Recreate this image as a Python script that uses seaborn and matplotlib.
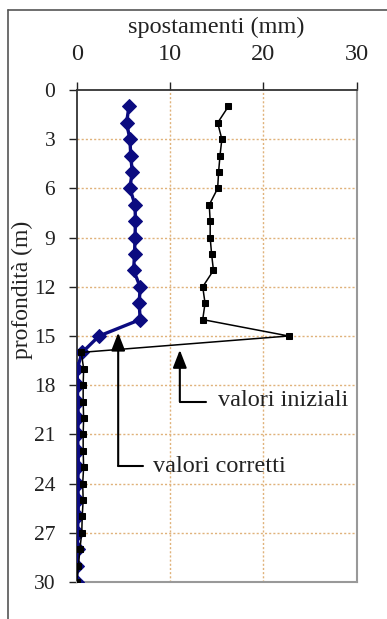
import numpy as np
import pandas as pd
import seaborn as sns
import matplotlib
matplotlib.use("Agg")
import matplotlib.pyplot as plt
from matplotlib.lines import Line2D

depth = list(range(1, 31))
valori_corretti = [5.6, 5.35, 5.7, 5.8, 5.95, 5.7, 6.25, 6.3, 6.25, 6.2,
                   6.1, 6.8, 6.7, 6.8, 2.4, 0.6, 0.05, 0.1, 0.1, 0.2,
                   0.1, 0.15, 0.2, 0.1, 0.2, 0.15, 0.1, 0.1, 0.05, 0.0]
valori_iniziali = [16.25, 15.1, 15.55, 15.35, 15.2, 15.1, 14.2, 14.3, 14.3, 14.45,
                   14.65, 13.5, 13.75, 13.5, 22.7, 0.5, 0.75, 0.7, 0.7, 0.75,
                   0.7, 0.7, 0.75, 0.65, 0.7, 0.6, 0.55, 0.35, 0.2, 0.0]
x_ticks = [0, 10, 20, 30]
y_ticks = list(range(0, 31, 3))

sns.set_theme(style="white")
plt.rcParams['font.family'] = ['Liberation Serif', 'DejaVu Serif']

FS = 17.5
TXT = "#222222"

fig = plt.figure(figsize=(3.87, 6.19), dpi=100)
ax = fig.add_axes([0.198, 0.0598, 0.724, 0.7948])

df_c = pd.DataFrame({"x": valori_corretti, "y": depth})
df_i = pd.DataFrame({"x": valori_iniziali, "y": depth})

sns.lineplot(data=df_c, x="x", y="y", sort=False, estimator=None, ax=ax,
             color="#0b0b80", lw=2.4, marker="D", markersize=7.5,
             markeredgecolor="#0b0b80", zorder=3)
sns.lineplot(data=df_i, x="x", y="y", sort=False, estimator=None, ax=ax,
             color="black", lw=1.1, marker="s", markersize=5,
             markeredgecolor="black", zorder=4)

ax.set_xlim(0, 30)
ax.set_ylim(30, 0)
ax.set_xticks(x_ticks)
ax.set_yticks(y_ticks)
ax.xaxis.tick_top()
ax.tick_params(axis="both", colors=TXT, length=6, width=1, direction="out")
ax.tick_params(axis="x", top=True, bottom=False, pad=12, labelsize=FS)
ax.tick_params(axis="y", left=True, pad=9.4, labelsize=15.5)
ax.set_xlabel("")
ax.set_ylabel("")
fig.text(0.56, 1 - 27 / 619, "spostamenti (mm)", fontsize=FS, color=TXT,
         ha="center", va="center")
fig.text(22 / 387, 1 - 290 / 619, "profondità (m)", rotation=90, fontsize=17,
         color=TXT, ha="center", va="center")

for g in [10, 20]:
    ax.axvline(g, color="#e0b27a", lw=1, ls=(0, (1.5, 1.5)), zorder=1)
for g in range(3, 30, 3):
    ax.axhline(g, color="#e0b27a", lw=1, ls=(0, (1.5, 1.5)), zorder=1)

for s in ["left", "top"]:
    ax.spines[s].set_color("#333333")
    ax.spines[s].set_linewidth(1.3)
for s in ["right", "bottom"]:
    ax.spines[s].set_color("#999999")
    ax.spines[s].set_linewidth(1.5)

arrow_kw = dict(arrowstyle="-|>,head_width=0.35,head_length=0.9",
                color="black", lw=1.5, shrinkA=0, shrinkB=0)
# valori iniziali
ax.annotate("", xy=(11.05, 15.85), xytext=(11.05, 19.0), arrowprops=arrow_kw, zorder=5)
ax.plot([11.05, 13.9], [19.0, 19.0], color="black", lw=1.5, zorder=5)
ax.text(15.1, 18.95, "valori iniziali", fontsize=FS, color=TXT,
        ha="left", va="center")
# valori corretti
ax.annotate("", xy=(4.45, 14.8), xytext=(4.45, 22.9), arrowprops=arrow_kw, zorder=5)
ax.plot([4.45, 7.1], [22.9, 22.9], color="black", lw=1.5, zorder=5)
ax.text(8.16, 22.95, "valori corretti", fontsize=FS, color=TXT,
        ha="left", va="center")

W, H = 387, 619
fig.add_artist(Line2D([8 / W, 8 / W], [0, 1 - 10 / H], color="#555555", lw=1.2))
fig.add_artist(Line2D([8 / W, 1], [1 - 10 / H, 1 - 10 / H], color="#555555", lw=1.2))

fig.savefig("out.png", dpi=100)
